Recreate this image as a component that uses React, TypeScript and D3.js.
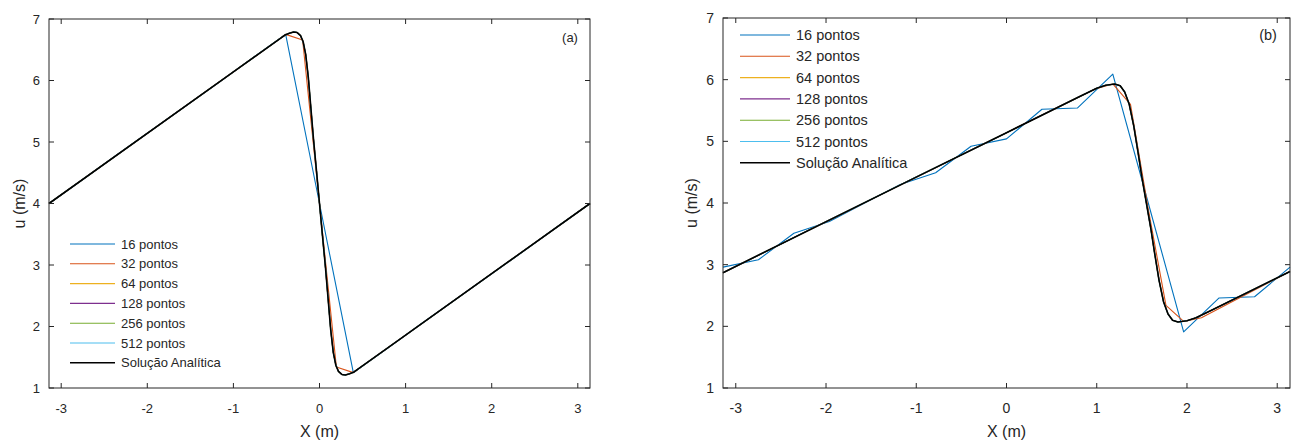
import React from 'react';
import * as d3 from 'd3';

const seriesNames = ['16 pontos', '32 pontos', '64 pontos', '128 pontos', '256 pontos', '512 pontos', 'Solução Analítica'];
const seriesColors = ['#0072BD', '#D95319', '#EDB120', '#7E2F8E', '#77AC30', '#4DBEEE', '#000000'];
const xTicks = [-3, -2, -1, 0, 1, 2, 3];
const yTicks = [1, 2, 3, 4, 5, 6, 7];
const xDomain = [-3.1416, 3.1416];
const yDomain = [1, 7];

// ---------- Panel (a) ----------
const aX16 = [-3.1416, -2.749, -2.356, -1.963, -1.571, -1.178, -0.785, -0.393, 0, 0.393, 0.785, 1.178, 1.571, 1.963, 2.356, 2.749, 3.1416];
const aU16 = [4.0, 4.39, 4.79, 5.18, 5.57, 5.96, 6.36, 6.75, 4.0, 1.25, 1.64, 2.04, 2.43, 2.82, 3.21, 3.61, 4.0];
const aX32 = [-3.1416, -0.589, -0.393, -0.196, 0, 0.196, 0.393, 0.589, 3.1416];
const aU32 = [4.0, 6.55, 6.75, 6.66, 4.0, 1.34, 1.25, 1.45, 4.0];
const aXan = [-3.1416, -1.0, -0.45, -0.4, -0.35, -0.3, -0.26, -0.22, -0.19, -0.16, -0.13, -0.1, -0.07, -0.035, 0,
  0.035, 0.07, 0.1, 0.13, 0.16, 0.19, 0.22, 0.26, 0.3, 0.35, 0.4, 0.45, 1.0, 3.1416];
const aUan = [4.0, 6.14, 6.69, 6.74, 6.77, 6.79, 6.78, 6.73, 6.63, 6.42, 6.05, 5.55, 5.05, 4.53, 4.0,
  3.47, 2.95, 2.45, 1.95, 1.58, 1.37, 1.27, 1.22, 1.21, 1.23, 1.26, 1.31, 1.86, 4.0];

// ---------- Panel (b) ----------
const bX16 = [-3.1416, -2.749, -2.356, -1.963, -1.571, -1.178, -0.785, -0.393, 0, 0.393, 0.785, 1.178, 1.571, 1.963, 2.356, 2.749, 3.1416];
const bU16 = [2.96, 3.08, 3.51, 3.70, 4.0, 4.30, 4.49, 4.92, 5.04, 5.52, 5.54, 6.09, 4.0, 1.91, 2.46, 2.48, 2.96];
const bX32 = [-3.1416, 0.982, 1.178, 1.374, 1.571, 1.767, 1.963, 2.160, 3.1416];
const bU32 = [2.87, 5.85, 5.93, 5.6, 3.9, 2.34, 2.08, 2.14, 2.89];
const bXan = [-3.1416, -1.0, 0, 0.8, 1.0, 1.1, 1.2, 1.26, 1.31, 1.36, 1.41, 1.46, 1.5, 1.55,
  1.6, 1.64, 1.69, 1.74, 1.79, 1.84, 1.9, 2.0, 2.1, 2.3, 3.1416];
const bUan = [2.87, 4.42, 5.14, 5.72, 5.86, 5.91, 5.93, 5.9, 5.8, 5.6, 5.25, 4.8, 4.42, 4.0,
  3.58, 3.2, 2.75, 2.4, 2.2, 2.1, 2.07, 2.09, 2.14, 2.28, 2.89];

// higher resolutions coincide with the analytic curve at this scale
const aSeries = [
  [aX16, aU16], [aX32, aU32], [aXan, aUan], [aXan, aUan], [aXan, aUan], [aXan, aUan], [aXan, aUan],
];
const bSeries = [
  [bX16, bU16], [bX32, bU32], [bXan, bUan], [bXan, bUan], [bXan, bUan], [bXan, bUan], [bXan, bUan],
];

const FONT = "'Liberation Sans', Arial, sans-serif";
const TXT = '#262626';

type PanelProps = {
  left: number; right: number; top: number; bottom: number;
  series: number[][][]; tag: string; tagX: number; tagY: number;
  legX: number; legY: number; legDy: number; legLine: number;
  tickFont: number; legFont: number; yLabelX: number;
};

function Panel(p: PanelProps) {
  const x = d3.scaleLinear().domain(xDomain).range([p.left, p.right]);
  const y = d3.scaleLinear().domain(yDomain).range([p.bottom, p.top]);
  const line = d3.line<[number, number]>().x(d => x(d[0])).y(d => y(d[1]));
  const tl = 5;
  return (
    <g>
      <defs>
        <clipPath id={'clip' + p.tag}>
          <rect x={p.left} y={p.top} width={p.right - p.left} height={p.bottom - p.top} />
        </clipPath>
      </defs>
      <g clipPath={`url(#clip${p.tag})`}>
        {p.series.map((s, i) => {
          const pts = s[0].map((xv, k) => [xv, s[1][k]] as [number, number]);
          return (
            <path key={i} d={line(pts) || ''} fill="none" stroke={seriesColors[i]}
              strokeWidth={i === 6 ? 1.6 : 1.1} strokeLinejoin="round" />
          );
        })}
      </g>
      <rect x={p.left} y={p.top} width={p.right - p.left} height={p.bottom - p.top}
        fill="none" stroke={TXT} strokeWidth={1} />
      {xTicks.map(t => (
        <g key={'xt' + t}>
          <line x1={x(t)} x2={x(t)} y1={p.bottom} y2={p.bottom - tl} stroke={TXT} />
          <line x1={x(t)} x2={x(t)} y1={p.top} y2={p.top + tl} stroke={TXT} />
          <text x={x(t)} y={p.bottom + 25} textAnchor="middle" fontFamily={FONT}
            fontSize={p.tickFont} fill={TXT}>{t}</text>
        </g>
      ))}
      {yTicks.map(t => (
        <g key={'yt' + t}>
          <line x1={p.left} x2={p.left + tl} y1={y(t)} y2={y(t)} stroke={TXT} />
          <line x1={p.right} x2={p.right - tl} y1={y(t)} y2={y(t)} stroke={TXT} />
          <text x={p.left - 9} y={y(t)} dy="0.35em" textAnchor="end" fontFamily={FONT}
            fontSize={p.tickFont} fill={TXT}>{t}</text>
        </g>
      ))}
      <text x={(p.left + p.right) / 2} y={p.bottom + 49} textAnchor="middle" fontFamily={FONT}
        fontSize={16} fill={TXT}>X (m)</text>
      <text transform={`translate(${p.yLabelX},${(p.top + p.bottom) / 2}) rotate(-90)`}
        textAnchor="middle" fontFamily={FONT} fontSize={16} fill={TXT}>u (m/s)</text>
      <text x={p.tagX} y={p.tagY} dy="0.35em" textAnchor="middle" fontFamily={FONT}
        fontSize={p.legFont} fill={TXT}>{p.tag}</text>
      {seriesNames.map((n, i) => (
        <g key={'lg' + i}>
          <line x1={p.legX} x2={p.legX + p.legLine} y1={p.legY + i * p.legDy} y2={p.legY + i * p.legDy}
            stroke={seriesColors[i]} strokeWidth={i === 6 ? 1.6 : 1.1} />
          <text x={p.legX + p.legLine + 6} y={p.legY + i * p.legDy} dy="0.35em" fontFamily={FONT}
            fontSize={p.legFont} fill={TXT}>{n}</text>
        </g>
      ))}
    </g>
  );
}

export default function App() {
  return (
    <svg width={1296} height={443} style={{ position: 'absolute', left: 0, top: 0, background: '#fff' }}>
      <rect x={0} y={0} width={1296} height={443} fill="#fff" />
      <Panel left={49} right={590} top={19} bottom={388} series={aSeries} tag="(a)" tagX={570} tagY={37}
        legX={70} legY={244} legDy={19.8} legLine={45} tickFont={13} legFont={13} yLabelX={25} />
      <Panel left={723} right={1290} top={18} bottom={388} series={bSeries} tag="(b)" tagX={1268} tagY={35}
        legX={740} legY={35} legDy={21.3} legLine={50} tickFont={14} legFont={14.5} yLabelX={697} />
    </svg>
  );
}
